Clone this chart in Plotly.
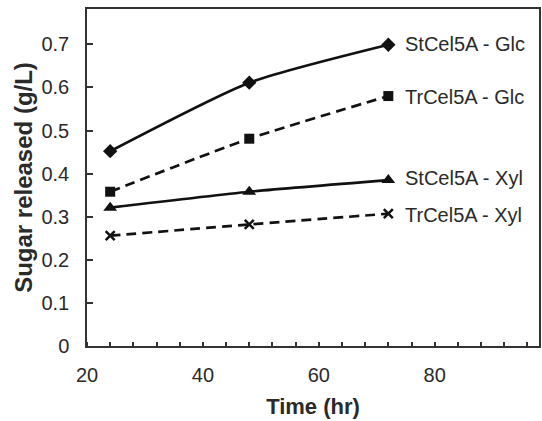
import plotly.graph_objects as go

time_hr = [24, 48, 72]
st_glc = [0.452, 0.611, 0.699]
tr_glc = [0.358, 0.481, 0.580]
st_xyl = [0.321, 0.358, 0.385]
tr_xyl = [0.256, 0.282, 0.307]

series_names = ["StCel5A - Glc", "TrCel5A - Glc", "StCel5A - Xyl", "TrCel5A - Xyl"]
series_values = [st_glc, tr_glc, st_xyl, tr_xyl]
markers = ["diamond", "square", "triangle-up", "x-thin"]
marker_sizes = [11, 10, 12, 9]
dashes = ["solid", "10px,6px", "solid", "10px,6px"]
label_y = [0.700, 0.578, 0.389, 0.304]

fig = go.Figure()
for name, vals, m, ms, d in zip(series_names, series_values, markers, marker_sizes, dashes):
    fig.add_trace(go.Scatter(
        x=time_hr, y=vals, mode="lines+markers", name=name,
        line=dict(color="#111111", width=2.7, dash=d, shape="spline", smoothing=0.6),
        marker=dict(symbol=m, size=ms, color="#111111",
                    line=dict(color="#111111", width=2.5 if m == "x-thin" else 0)),
        showlegend=False,
    ))

for name, ly in zip(series_names, label_y):
    fig.add_annotation(x=74.6, y=ly, text=name, showarrow=False, xanchor="left",
                       yanchor="middle", font=dict(family="Liberation Sans, Arial", size=20, color="#2a2a2a"))

axis_font = dict(family="Liberation Sans, Arial", size=20, color="#2a2a2a")
fig.update_xaxes(range=[20, 98.0], tickvals=[20, 40, 60, 80], ticks="", ticklen=0,
                 ticklabelstandoff=10,
                 minor=dict(dtick=4, tick0=0, ticks="inside", ticklen=4, tickcolor="#333333", tickwidth=1.5),
                 showgrid=False, zeroline=False, showline=True, linecolor="#333333", linewidth=1.5,
                 mirror=True, tickfont=axis_font,
                 title=dict(text="<b>Time (hr)</b>", font=dict(family="Liberation Sans, Arial", size=22, color="#2a2a2a"), standoff=14))
fig.update_yaxes(range=[0, 0.782], tickvals=[0, 0.1, 0.2, 0.3, 0.4, 0.5, 0.6, 0.7],
                 ticktext=["0", "0.1", "0.2", "0.3", "0.4", "0.5", "0.6", "0.7"],
                 ticks="inside", ticklen=6, tickcolor="#333333", tickwidth=1.5,
                 ticklabelstandoff=12,
                 showgrid=False, zeroline=False, showline=True, linecolor="#333333", linewidth=1.5,
                 mirror=True, tickfont=axis_font,
                 title=dict(text="<b>Sugar released (g/L)</b>", font=dict(family="Liberation Sans, Arial", size=24, color="#2a2a2a"), standoff=2))
fig.update_layout(width=542, height=421, margin=dict(l=87, r=1, t=9, b=75),
                  plot_bgcolor="white", paper_bgcolor="white")
fig.write_html("out.html")
